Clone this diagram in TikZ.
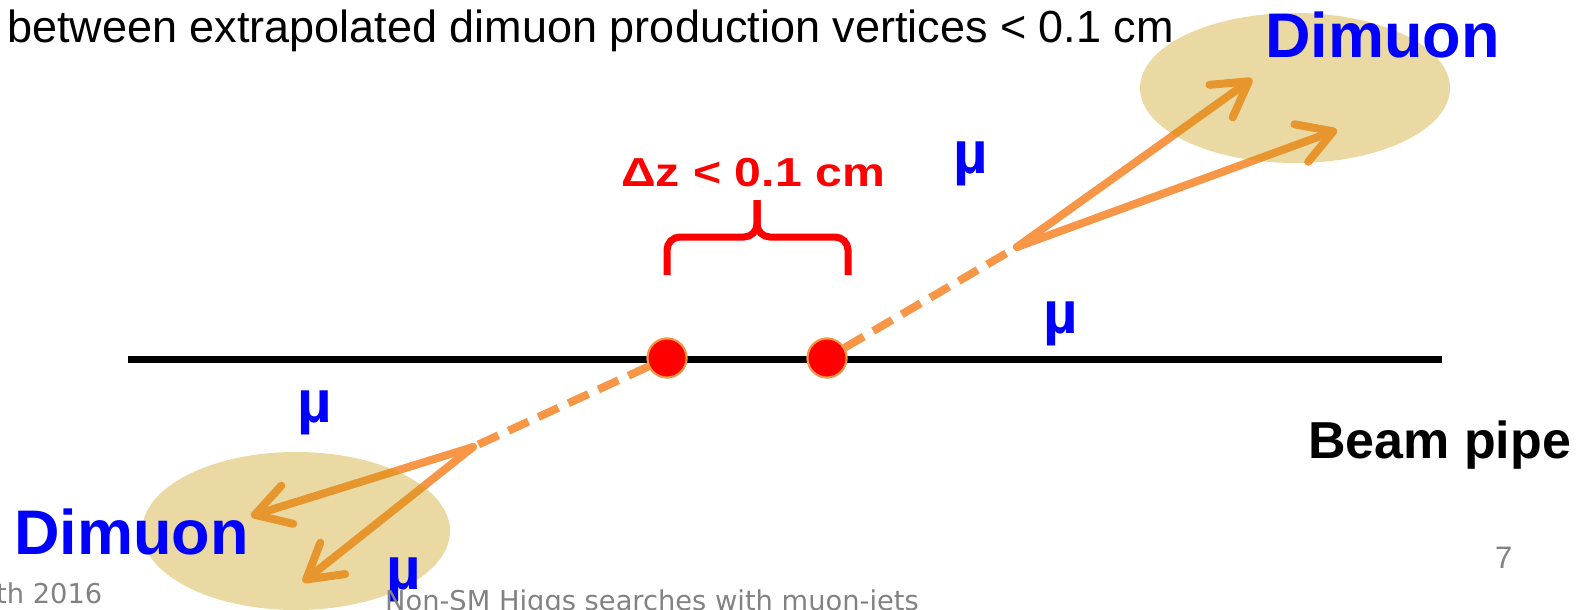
\documentclass[tikz,border=0pt]{standalone}
\usepackage{fontspec}
\setmainfont{Liberation Sans}
\newfontfamily\footfont{DejaVu Sans}
\usetikzlibrary{arrows.meta}
\definecolor{trk}{RGB}{247,150,70}
\definecolor{goldfill}{RGB}{200,150,0}
\definecolor{mublue}{RGB}{0,0,255}
\definecolor{footgray}{RGB}{130,130,130}
\begin{document}
\begin{tikzpicture}[x=1pt,y=-1pt,
  lbl/.style={inner sep=0pt, anchor=base west},
  mulabel/.style={lbl, text=mublue, font=\bfseries\fontsize{60}{60}\selectfont},
  dimuonlabel/.style={lbl, text=mublue, font=\bfseries\fontsize{63}{63}\selectfont},
  dashtrack/.style={draw=trk, line width=8pt, dash pattern=on 22pt off 11pt},
  trackarrow/.style={draw=trk, line width=8pt, line cap=round, -{Straight Barb[length=34pt,width=40pt,round]}},
  vertexdot/.style={circle, minimum size=39pt, inner sep=0pt, fill=red, draw=trk, line width=2pt},
  dimuonblob/.style={fill=goldfill, fill opacity=0.36},
  bracestyle/.style={draw=red, line width=7pt, rounded corners=13pt},
  footstyle/.style={lbl, text=footgray, font=\footfont\fontsize{27.3}{27.3}\selectfont}]
\useasboundingbox (0,0) rectangle (1579,610);
% beam pipe
\coordinate (bpL) at (128,359);
\coordinate (bpR) at (1442,359);
\draw[line width=7pt] (bpL) -- (bpR);
% split points and tips
\coordinate (sR) at (1017,247);
\coordinate (sL) at (473,447);
\coordinate (tR1) at (1252,79);
\coordinate (tR2) at (1337,130);
\coordinate (tL1) at (251,516);
\coordinate (tL2) at (303,582);
% vertices
\node[vertexdot] (vL) at (667,358) {};
\node[vertexdot] (vR) at (827,358) {};
% tracks
\draw[dashtrack] (vR) -- (sR);
\draw[dashtrack] (vL) -- (sL);
\draw[trackarrow] (sR) -- (tR1);
\draw[trackarrow] (sR) -- (tR2);
\draw[trackarrow] (sL) -- (tL1);
\draw[trackarrow] (sL) -- (tL2);
\node[vertexdot] at (vL) {};
\node[vertexdot] at (vR) {};
% dimuon blobs
\path[dimuonblob] (1295,88) ellipse [x radius=155, y radius=75];
\path[dimuonblob] (296,531) ellipse [x radius=154, y radius=79];
% brace
\coordinate (brL) at (667,275);
\coordinate (brR) at (848,275);
\coordinate (brT) at (757,200);
\draw[bracestyle] (brL) -- (667,237) -- (757,237) -- (brT);
\draw[bracestyle] (brR) -- (848,237) -- (757,237) -- (brT);
% texts
\node[lbl, font=\fontsize{45}{45}\selectfont] (top) at (7,43) {between extrapolated dimuon production vertices < 0.1 cm};
\node[lbl, text=red, font=\bfseries\fontsize{40.5}{40.5}\selectfont] (dz) at (621,186) {\scalebox{1.19}[1]{Δz < 0.1 cm}};
\node[dimuonlabel] (dimR) at (1265,58) {Dimuon};
\node[dimuonlabel] (dimL) at (14,554) {Dimuon};
\node[mulabel] (mu1) at (953,173) {µ};
\node[mulabel] (mu2) at (1043,333) {µ};
\node[mulabel] (mu3) at (297,422) {µ};
\node[mulabel] (mu4) at (386,589) {µ};
\node[lbl, font=\bfseries\fontsize{52}{52}\selectfont] (bp) at (1308,458) {Beam pipe};
\node[lbl, text=footgray, font=\fontsize{31}{31}\selectfont] (pg) at (1495,568) {7};
\node[footstyle] (f1) at (-4,603) {th 2016};
\node[footstyle] (f2) at (385,610) {Non-SM Higgs searches with muon-jets};
\end{tikzpicture}
\end{document}
